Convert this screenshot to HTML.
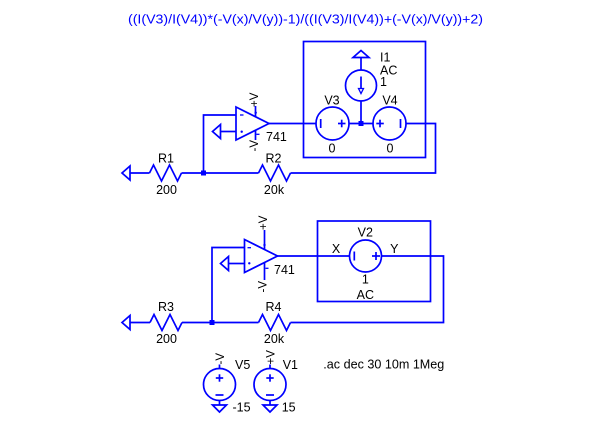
<!DOCTYPE html>
<html><head><meta charset="utf-8"><style>
html,body{margin:0;padding:0;background:#fff;}
svg{display:block;}
text{font-family:"Liberation Sans",Arial,sans-serif;}
</style></head><body>
<svg width="600" height="428" viewBox="0 0 600 428" xmlns="http://www.w3.org/2000/svg">
<rect width="600" height="428" fill="#fff"/>
<text x="128" y="23.5" font-size="12.5" fill="#0000ff" textLength="355" lengthAdjust="spacingAndGlyphs">((I(V3)/I(V4))*(-V(x)/V(y))-1)/((I(V3)/I(V4))+(-V(x)/V(y))+2)</text>

<g fill="none" stroke="#0000ff" stroke-width="1.7" stroke-linejoin="miter">
<!-- ===== Upper circuit ===== -->
<polygon points="122,173 130,166 130,180"/>
<line x1="130" y1="173" x2="149.5" y2="173"/>
<polyline points="149.5,173 153.5,165 161.5,181 169.5,165 177.5,181 181.5,173"/>
<line x1="181.5" y1="173" x2="258.5" y2="173"/>
<polyline points="258.5,173 262.5,165 270.5,181 278.5,165 286.5,181 290.5,173"/>
<polyline points="290.5,173 435.5,173 435.5,123.5 406,123.5"/>
<polyline points="203.5,173 203.5,115 236,115"/>
<polygon points="236,107 269,123.5 236,140"/>
<line x1="220.5" y1="131.5" x2="236" y2="131.5"/>
<polygon points="212.5,131.5 220.5,124.5 220.5,138.5"/>
<line x1="255.5" y1="106" x2="255.5" y2="116.7"/>
<line x1="255.5" y1="130.3" x2="255.5" y2="140"/>
<line x1="269" y1="123.5" x2="316" y2="123.5"/>
<circle cx="332.5" cy="123.5" r="16.5"/>
<circle cx="389.5" cy="123.5" r="16.5"/>
<line x1="349" y1="123.5" x2="373" y2="123.5"/>
<circle cx="361" cy="85.5" r="15.5"/>
<line x1="361" y1="101" x2="361" y2="123.5"/>
<line x1="361" y1="70" x2="361" y2="57.5"/>
<polygon points="353,57.5 369,57.5 361,50.5"/>
<line x1="361" y1="76.5" x2="361" y2="88.5"/>
<polygon points="358.5,88.5 363.5,88.5 361,93.5" stroke-width="1.3"/>
<rect x="303.5" y="41.5" width="122" height="116"/>
<!-- V3 inner -->
<line x1="320.7" y1="119" x2="320.7" y2="128"/>
<line x1="338" y1="123.5" x2="345.5" y2="123.5"/>
<line x1="341.7" y1="119.7" x2="341.7" y2="127.3"/>
<!-- V4 inner -->
<line x1="376.3" y1="123.5" x2="383.8" y2="123.5"/>
<line x1="380" y1="119.7" x2="380" y2="127.3"/>
<line x1="400.5" y1="119" x2="400.5" y2="128"/>
<!-- opamp marks -->
<line x1="240" y1="115" x2="243.5" y2="115" stroke-width="1.3"/>
<line x1="256.3" y1="134.3" x2="259.5" y2="134.3" stroke-width="1.3"/>

<!-- ===== Lower circuit ===== -->
<polygon points="122,322.5 130,315.5 130,329.5"/>
<line x1="130" y1="322.5" x2="150" y2="322.5"/>
<polyline points="150,322.5 154,314.5 162,330.5 170,314.5 178,330.5 182,322.5"/>
<line x1="182" y1="322.5" x2="258.5" y2="322.5"/>
<polyline points="258.5,322.5 262.5,314.5 270.5,330.5 278.5,314.5 286.5,330.5 290.5,322.5"/>
<polyline points="290.5,322.5 443.5,322.5 443.5,256 381.5,256"/>
<polyline points="212,322.5 212,247.5 244.5,247.5"/>
<polygon points="244.5,239.5 277.5,256 244.5,272.5"/>
<line x1="228.5" y1="263.5" x2="244.5" y2="263.5"/>
<polygon points="220.5,263.5 228.5,256.5 228.5,270.5"/>
<line x1="264.5" y1="230" x2="264.5" y2="249.5"/>
<line x1="264.5" y1="262.5" x2="264.5" y2="280"/>
<line x1="277.5" y1="256" x2="349.5" y2="256"/>
<circle cx="365.5" cy="256" r="16"/>
<rect x="317.5" y="221" width="113" height="80.5"/>
<line x1="354.3" y1="251.5" x2="354.3" y2="260.5"/>
<line x1="372" y1="256" x2="380" y2="256"/>
<line x1="376" y1="252" x2="376" y2="260"/>
<line x1="247.5" y1="247.7" x2="251" y2="247.7" stroke-width="1.3"/>
<line x1="265.5" y1="268.3" x2="268.5" y2="268.3" stroke-width="1.3"/>

<!-- ===== Supplies ===== -->
<circle cx="219.5" cy="384.5" r="16"/>
<line x1="219.5" y1="364.5" x2="219.5" y2="368.5"/>
<line x1="219.5" y1="400.5" x2="219.5" y2="405"/>
<polygon points="212.5,405 226.5,405 219.5,412"/>
<line x1="215.8" y1="378" x2="223.2" y2="378"/>
<line x1="219.5" y1="374.3" x2="219.5" y2="381.7"/>
<line x1="215.5" y1="395" x2="223.5" y2="395"/>

<circle cx="270" cy="384.5" r="16"/>
<line x1="270" y1="364.5" x2="270" y2="368.5"/>
<line x1="270" y1="400.5" x2="270" y2="405"/>
<polygon points="263,405 277,405 270,412"/>
<line x1="266.3" y1="378" x2="273.7" y2="378"/>
<line x1="270" y1="374.3" x2="270" y2="381.7"/>
<line x1="266" y1="395" x2="274" y2="395"/>
</g>

<g fill="#0000ff">
<rect x="201" y="170.5" width="5" height="5"/>
<rect x="358.5" y="121" width="5" height="5"/>
<rect x="209.5" y="320" width="5" height="5"/>
<circle cx="241.7" cy="131.7" r="1.2"/>
<circle cx="255.7" cy="112.7" r="1.2"/>
<circle cx="249.3" cy="263.3" r="1.2"/>
<circle cx="264.5" cy="245" r="1.2"/>
</g>

<g font-size="11.5" fill="#000">
<text transform="translate(258,107) rotate(-90)">+V</text>
<text transform="translate(258,151.5) rotate(-90)">-V</text>
<text transform="translate(267,230) rotate(-90)">+V</text>
<text transform="translate(266.5,292.5) rotate(-90)">-V</text>
<text transform="translate(224,364.5) rotate(-90)">-V</text>
<text transform="translate(274.5,364.5) rotate(-90)">+V</text>
</g>

<g font-size="12.5" fill="#000" text-anchor="middle">
<text x="166" y="162.5">R1</text>
<text x="166.5" y="194">200</text>
<text x="273.5" y="162.5">R2</text>
<text x="274" y="194">20k</text>
<text x="332" y="104.5">V3</text>
<text x="332" y="152.5">0</text>
<text x="390" y="104.5">V4</text>
<text x="390" y="152.5">0</text>
<text x="365.3" y="236.5">V2</text>
<text x="336" y="253">X</text>
<text x="394.3" y="253">Y</text>
<text x="365.3" y="283.5">1</text>
<text x="365.3" y="299">AC</text>
<text x="166" y="311">R3</text>
<text x="166.5" y="343">200</text>
<text x="273.5" y="311">R4</text>
<text x="274" y="343">20k</text>
</g>
<g font-size="12.5" fill="#000">
<text x="380" y="61.5">I1</text>
<text x="380" y="74.5">AC</text>
<text x="380" y="86">1</text>
<text x="266" y="141">741</text>
<text x="274" y="274">741</text>
<text x="235" y="369">V5</text>
<text x="282.7" y="369">V1</text>
<text x="232.5" y="411.5">-15</text>
<text x="281.7" y="411.5">15</text>
<text x="323.3" y="368.3" textLength="121" lengthAdjust="spacingAndGlyphs">.ac dec 30 10m 1Meg</text>
</g>
</svg>
</body></html>
